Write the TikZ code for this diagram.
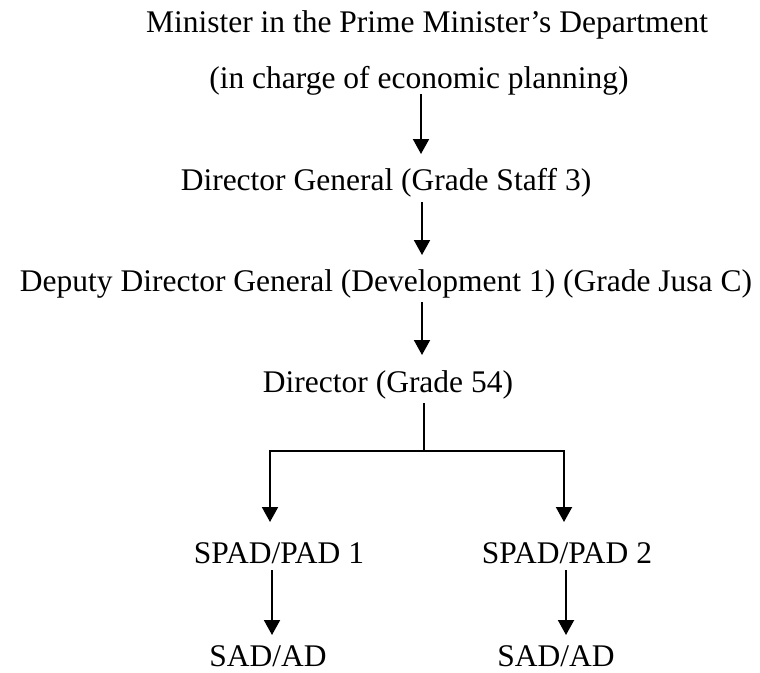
\documentclass[tikz,border=0pt]{standalone}
\usepackage{fontspec}
\setmainfont{Liberation Serif}
\usetikzlibrary{arrows.meta}
\begin{document}
\begin{tikzpicture}[x=1pt,y=-1pt,
  lbl/.style={anchor=base,inner sep=0pt,font=\fontsize{31.5}{36}\selectfont},
  low/.style={lbl,text depth=0pt},
  link/.style={line width=2pt},
  arr/.style={link,-{Triangle[length=15pt,width=16pt]}}]
\useasboundingbox (0,0) rectangle (760,672);

% titles and posts
\node[lbl] (min)  at (427,32)  {Minister in the Prime Minister’s Department};
\node[lbl] (plan) at (419,88)  {(in charge of economic planning)};
\node[lbl] (dg)   at (386,190) {Director General (Grade Staff 3)};
\node[lbl] (ddg)  at (386,291) {Deputy Director General (Development 1) (Grade Jusa C)};
\node[lbl] (dir)  at (388,392) {Director (Grade 54)};
\node[lbl] (sp1)  at (279,563) {SPAD/PAD 1};
\node[lbl] (sp2)  at (567,563) {SPAD/PAD 2};
\node[low] (sad1) at (268,666) {SAD/AD};
\node[low] (sad2) at (556,666) {SAD/AD};

% connector end points
\coordinate (p1s) at (421,94);  \coordinate (p1e) at (421,154);
\coordinate (p2s) at (422,202); \coordinate (p2e) at (422,255);
\coordinate (p3s) at (422,302); \coordinate (p3e) at (422,355);
\coordinate (ds)  at (424,403); \coordinate (dj)  at (424,451);
\coordinate (b1)  at (270,522); \coordinate (b2)  at (564,522);
\coordinate (s1s) at (272,570); \coordinate (s1e) at (272,635);
\coordinate (s2s) at (566,570); \coordinate (s2e) at (566,635);

% connectors
\draw[arr] (p1s) -- (p1e);
\draw[arr] (p2s) -- (p2e);
\draw[arr] (p3s) -- (p3e);
\draw[link] (ds) -- (dj);
\draw[arr] (dj) -| (b1);
\draw[arr] (dj) -| (b2);
\draw[arr] (s1s) -- (s1e);
\draw[arr] (s2s) -- (s2e);
\end{tikzpicture}
\end{document}
